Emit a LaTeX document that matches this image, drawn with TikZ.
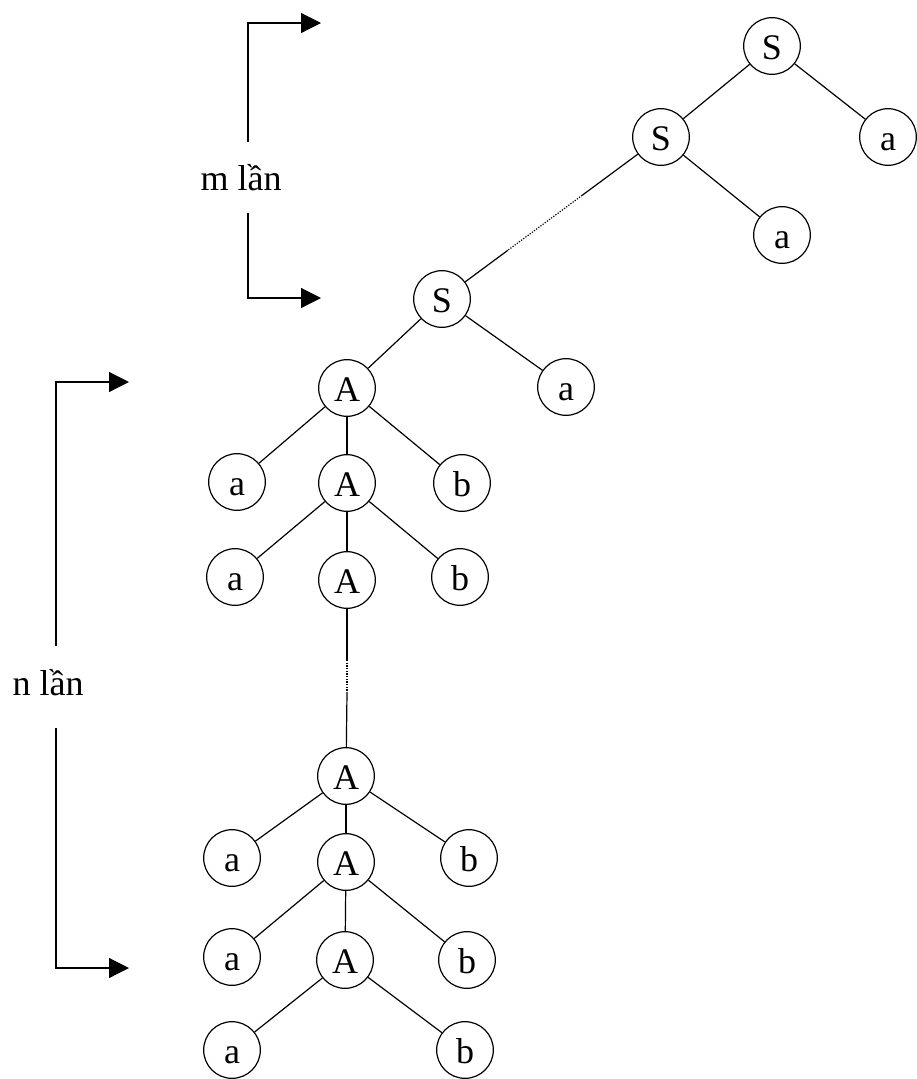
\documentclass[tikz,border=0pt]{standalone}
\usepackage{fontspec}
\setmainfont{Liberation Serif}
\usetikzlibrary{arrows.meta,calc}
\begin{document}
\begin{tikzpicture}[x=0.75pt,y=-0.75pt,
  nd/.style={draw,circle,line width=0.9pt,minimum size=42.5pt,inner sep=0pt,text height=20pt,text depth=0pt,font=\fontsize{27}{31}\selectfont},
  edge/.style={line width=0.9pt},
  dotseg/.style={line width=0.9pt,dash pattern=on 0.9pt off 1.1pt},
  brkarrow/.style={line width=0.9pt,-{Triangle[length=15pt,width=15pt]}},
  lbl/.style={font=\fontsize{27}{31}\selectfont,inner sep=0pt}]
\useasboundingbox (0,0) rectangle (917,1079);
% nodes
\node[nd] (S1) at (772,46) {S};
\node[nd] (S2) at (661,137) {S};
\node[nd] (a1) at (888,137) {a};
\node[nd] (a2) at (782,235) {a};
\node[nd] (S3) at (442,299) {S};
\node[nd] (a3) at (566,387) {a};
\node[nd] (A1) at (347,388) {A};
\node[nd] (a4) at (237,482) {a};
\node[nd] (A2) at (347,483) {A};
\node[nd] (b1) at (462,483) {b};
\node[nd] (a5) at (235,577) {a};
\node[nd] (A3) at (347,580) {A};
\node[nd] (b2) at (460,577) {b};
\node[nd] (A4) at (346,776) {A};
\node[nd] (a6) at (232,858) {a};
\node[nd] (A5) at (346,862) {A};
\node[nd] (b3) at (469,858) {b};
\node[nd] (a7) at (232,957) {a};
\node[nd] (A6) at (345,960) {A};
\node[nd] (b4) at (467,960) {b};
\node[nd] (a8) at (232,1050) {a};
\node[nd] (b5) at (465,1050) {b};
% edges
\draw[edge] (S1) -- (S2);
\draw[edge] (S1) -- (a1);
\draw[edge] (S2) -- (a2);
\coordinate (d1) at ($(S2)!0.36!(S3)$);
\coordinate (d2) at ($(S2)!0.70!(S3)$);
\draw[edge] (S2) -- (d1);
\draw[dotseg] (d1) -- (d2);
\draw[edge] (d2) -- (S3);
\draw[edge] (S3) -- (A1);
\draw[edge] (S3) -- (a3);
\draw[edge] (A1) -- (a4);
\draw[edge] (A1) -- (A2);
\draw[edge] (A1) -- (b1);
\draw[edge] (A2) -- (a5);
\draw[edge] (A2) -- (A3);
\draw[edge] (A2) -- (b2);
\coordinate (v1) at (347,660);
\coordinate (v2) at (347,692);
\draw[edge] (A3) -- (v1);
\draw[dotseg] (v1) -- (v2);
\draw[edge] (v2) -- (A4);
\draw[edge] (A4) -- (a6);
\draw[edge] (A4) -- (A5);
\draw[edge] (A4) -- (b3);
\draw[edge] (A5) -- (a7);
\draw[edge] (A5) -- (A6);
\draw[edge] (A5) -- (b4);
\draw[edge] (A6) -- (a8);
\draw[edge] (A6) -- (b5);
% m bracket
\node[lbl] (mlbl) at (241,178) {m lần};
\coordinate (mt) at (248,142);
\coordinate (mtc) at (248,23);
\coordinate (mte) at (321,23);
\coordinate (mb) at (248,213);
\coordinate (mbc) at (248,298);
\coordinate (mbe) at (321,298);
\draw[brkarrow] (mt) -- (mtc) -- (mte);
\draw[brkarrow] (mb) -- (mbc) -- (mbe);
% n bracket
\node[lbl] (nlbl) at (48,683) {n lần};
\coordinate (nt) at (56,646);
\coordinate (ntc) at (56,382);
\coordinate (nte) at (129,382);
\coordinate (nb) at (56,728);
\coordinate (nbc) at (56,968);
\coordinate (nbe) at (129,968);
\draw[brkarrow] (nt) -- (ntc) -- (nte);
\draw[brkarrow] (nb) -- (nbc) -- (nbe);
\end{tikzpicture}
\end{document}
